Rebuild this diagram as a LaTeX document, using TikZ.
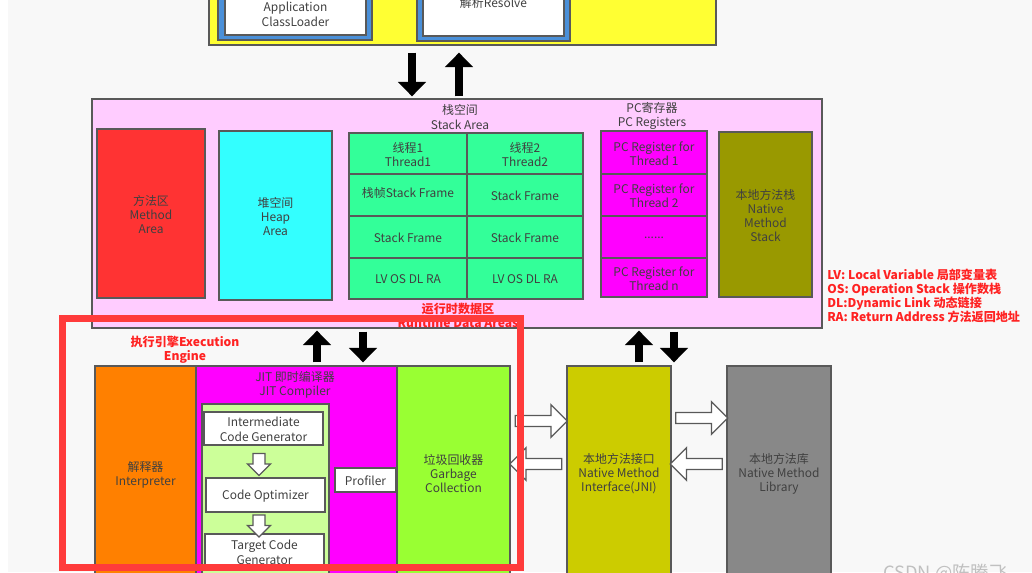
\documentclass[tikz,border=0pt]{standalone}
\usepackage{xcolor}
\usepackage{fontspec}
\setmainfont{Noto Sans CJK SC}
\usepackage{tikz}
\usetikzlibrary{arrows.meta, positioning, fit, calc, shapes.arrows}

\definecolor{bggray}{HTML}{F8F8F8}
\definecolor{edgegray}{HTML}{595959}
\definecolor{txtgray}{HTML}{404040}
\definecolor{loadyellow}{HTML}{FFFF33}
\definecolor{loadblue}{HTML}{4A90D9}
\definecolor{rdapink}{HTML}{FFCCFF}
\definecolor{methodred}{HTML}{FF3333}
\definecolor{heapcyan}{HTML}{33FFFF}
\definecolor{stackgreen}{HTML}{33FF99}
\definecolor{pcmagenta}{HTML}{FF00FF}
\definecolor{nmsolive}{HTML}{999900}
\definecolor{interporange}{HTML}{FF8000}
\definecolor{jitgreen}{HTML}{CCFF99}
\definecolor{gcgreen}{HTML}{99FF33}
\definecolor{jniyellow}{HTML}{CCCC00}
\definecolor{libgray}{HTML}{888888}
\definecolor{legendred}{HTML}{FF2222}
\definecolor{hlred}{HTML}{FF3B3B}
\definecolor{wmgray}{HTML}{C0C0C0}

\newcommand{\boxfont}{\fontsize{8.5}{10}\selectfont}
\newcommand{\legendfont}{\fontsize{8.6}{10}\selectfont}

\begin{document}
\begin{tikzpicture}[x=0.025cm, y=-0.025cm,
        box/.style = {draw=edgegray, line width=0.9pt, inner sep=0pt},
        lbl/.style = {inner sep=0pt, align=center, text=txtgray, font=\boxfont},
        txt/.style = {label={[lbl, yshift=-0.02cm]center:{#1}}},
        cell/.style = {box, fill=stackgreen},
        pcreg/.style = {box, fill=pcmagenta},
        plain/.style = {box, fill=white},
        redlbl/.style = {inner sep=0pt, align=center, text=legendred, font=\legendfont\bfseries},
        blk/.style = {line width=0.2cm, -{Triangle[length=0.36cm, width=0.68cm]}},
        hollow/.style = {single arrow, draw=edgegray, fill=white, line width=0.9pt, inner sep=0.12cm, single arrow head extend=0.27cm, minimum height=1.3cm},
        smallhollow/.style = {hollow, inner sep=0.135cm, single arrow head extend=0.14cm, minimum height=0.55cm, shape border rotate=270}
    ]

    \useasboundingbox (0,0) rectangle (1032,572);
    \clip (0,0) rectangle (1032,572);
    \fill[white] (0,0) rectangle (1032,572);
    \fill[bggray] (8,0) rectangle (1032,572);

    \node[box, fill=loadyellow, fit={(209,-30) (716,45)}] (loader) {};
    \node[box, fill=loadblue, fit={(218,-20) (372,40)}] (appout) {};
    \node[plain, fit={(225,-8) (366,35)}, txt={Application\\ClassLoader}] (app) {};
    \node[box, fill=loadblue, fit={(417,-40) (570,41)}] (resout) {};
    \node[plain, fit={(423,-32) (564,36)}, txt={解析Resolve}] (res) {};

    \node[box, fill=rdapink, fit={(92,99) (822,328)}] (rda) {};
    \node[box, fill=methodred, fit={(97,129) (205,298)}, txt={方法区\\Method\\Area}] (method) {};
    \node[box, fill=heapcyan, fit={(219,131) (332,300)}, txt={堆空间\\Heap\\Area}] (heap) {};

    \node[lbl] (stklbl) at (460,117) {栈空间\\Stack Area};
    \node[cell, fit={(349,133) (467,174)}, txt={线程1\\Thread1}] (t1) {};
    \node[cell, fit={(467,133) (583,174)}, txt={线程2\\Thread2}] (t2) {};
    \node[cell, fit={(349,174) (467,216)}, txt={\raisebox{0.15cm}{栈帧Stack Frame}}] (f11) {};
    \node[cell, fit={(467,174) (583,216)}, txt={Stack Frame}] (f21) {};
    \node[cell, fit={(349,216) (467,258)}, txt={Stack Frame}] (f12) {};
    \node[cell, fit={(467,216) (583,258)}, txt={Stack Frame}] (f22) {};
    \node[cell, fit={(349,258) (467,299)}, txt={LV OS DL RA}] (v1) {};
    \node[cell, fit={(467,258) (583,299)}, txt={LV OS DL RA}] (v2) {};

    \node[lbl] (pclbl) at (652,116) {PC寄存器\\PC Registers};
    \node[pcreg, fit={(601,131) (707,174)}, txt={PC Register for\\Thread 1}] (pc1) {};
    \node[pcreg, fit={(601,174) (707,216)}, txt={PC Register for\\Thread 2}] (pc2) {};
    \node[pcreg, fit={(601,216) (707,258)}, txt={......}] (pcd) {};
    \node[pcreg, fit={(601,258) (707,297)}, txt={PC Register for\\Thread n}] (pcn) {};

    \node[box, fill=nmsolive, fit={(719,132) (812,297)}, txt={本地方法栈\\Native\\Method\\Stack}] (nms) {};
    \node[redlbl] (rdalbl) at (458,315) {运行时数据区\\Runtime Data Areas};

    \node[redlbl, align=left, anchor=west] (lgd) at (827,296) {LV: Local Variable 局部变量表\\OS: Operation Stack 操作数栈\\DL:Dynamic Link 动态链接\\RA: Return Address 方法返回地址};

    \node[redlbl] (eelbl) at (185,350) {执行引擎Execution\\Engine};
    \node[box, fill=interporange, fit={(95,366) (196,582)}, txt={解释器\\Interpreter}] (interp) {};
    \node[box, fill=pcmagenta, fit={(196,366) (397,600)}] (jit) {};
    \node[lbl] (jitlbl) at (295,385) {JIT 即时编译器\\JIT Compiler};
    \node[box, fill=jitgreen, fit={(202,404) (329,600)}] (jitin) {};
    \node[plain, fit={(204,412) (323,445)}, txt={Intermediate\\Code Generator}] (icg) {};
    \node[plain, fit={(206,478) (325,512)}, txt={Code Optimizer}] (opt) {};
    \node[plain, fit={(205,534) (324,569)}, txt={Target Code\\Generator}] (tcg) {};
    \node[plain, fit={(335,468) (396,492)}, txt={Profiler}] (prof) {};
    \node[box, fill=gcgreen, fit={(397,366) (510,580)}, txt={垃圾回收器\\Garbage\\Collection}] (gc) {};
    \node[box, fill=jniyellow, fit={(567,366) (671,580)}, txt={本地方法接口\\Native Method\\Interface(JNI)}] (jni) {};
    \node[box, fill=libgray, fit={(727,366) (831,580)}, txt={本地方法库\\Native Method\\Library}] (lib) {};

    \coordinate (a1) at (412,0);
    \coordinate (a2) at (459,0);
    \coordinate (b1) at (317,0);
    \coordinate (b2) at (363,0);
    \coordinate (c1) at (639,0);
    \coordinate (c2) at (674,0);
    \coordinate (v) at (259,0);
    \coordinate (h1) at (0,421);
    \coordinate (h2) at (0,464);
    \coordinate (h3) at (0,418);

    \draw[blk, shorten <=0.175cm, shorten >=0.05cm] (loader.south -| a1) -- (rda.north -| a1);
    \draw[blk, shorten <=0.05cm, shorten >=0.175cm] (rda.north -| a2) -- (loader.south -| a2);
    \draw[blk, shorten <=0.075cm, shorten >=0.05cm] (jit.north -| b1) -- (rda.south -| b1);
    \draw[blk, shorten <=0.075cm, shorten >=0.075cm] (rda.south -| b2) -- (jit.north -| b2);
    \draw[blk, shorten <=0.075cm, shorten >=0.05cm] (jni.north -| c1) -- (rda.south -| c1);
    \draw[blk, shorten <=0.075cm, shorten >=0.075cm] (rda.south -| c2) -- (jni.north -| c2);

    \node[hollow] (gj1) at ($(gc.east |- h1)!0.5!(jni.west |- h1)$) {};
    \node[hollow, shape border rotate=180] (gj2) at ($(gc.east |- h2)!0.5!(jni.west |- h2)$) {};
    \node[hollow] (jl1) at ($(jni.east |- h3)!0.5!(lib.west |- h3)$) {};
    \node[hollow, shape border rotate=180] (jl2) at ($(jni.east |- h2)!0.5!(lib.west |- h2)$) {};
    \node[smallhollow] (io) at ($(icg.south -| v)!0.5!(opt.north -| v)$) {};
    \node[smallhollow] (ot) at ($(opt.south -| v)!0.5!(tcg.north -| v)$) {};

    \node[draw=hlred, line width=0.175cm, inner sep=0pt, fit={(62.5,318.5) (520.5,567.5)}] (hl) {};
    \node[text=wmgray, font=\fontsize{13}{15}\selectfont, anchor=north west, inner sep=0pt] (wm) at (883,564) {CSDN @陈腾飞};
\end{tikzpicture}
\end{document}
